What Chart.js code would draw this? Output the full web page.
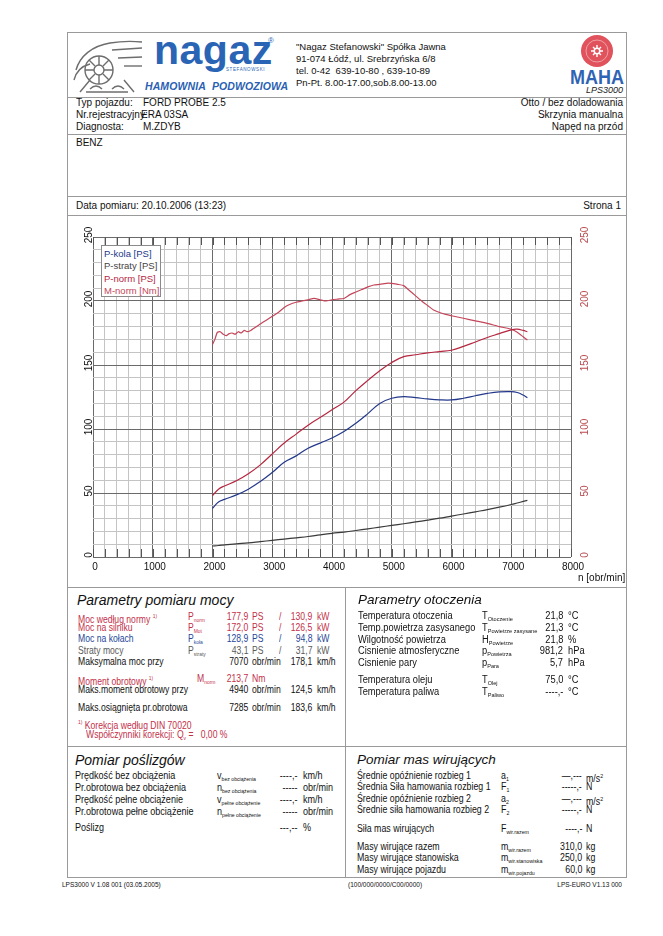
<!DOCTYPE html>
<html>
<head>
<meta charset="utf-8">
<script src="https://cdn.jsdelivr.net/npm/chart.js@4.4.1/dist/chart.umd.min.js"></script>
<style>
  body { margin: 0; background: #fff; width: 663px; height: 936px; position: relative; overflow: hidden;
         font-family: "Liberation Sans", Arial, sans-serif; color: #111; }
  .t { position: absolute; white-space: nowrap; font-size: 10px; line-height: 12px; }
  .n { font-size: 10.5px; }
  .w { font-size: 10px; }
  .ln { position: absolute; background: #9a9a9a; }
  .red { color: #c3304a; }
  .blue { color: #27479a; }
  .gray { color: #5a5a5a; }
  .h { font-style: italic; font-size: 14px; line-height: 16px; color: #111; }
  sub { font-size: 6px; vertical-align: -2px; line-height: 0; }
  #legend { position: absolute; left: 101px; top: 245px; width: 60px; height: 52px; background: #fff; white-space: nowrap;
            border: 1px solid #8a8a8a; font-size: 9.5px; line-height: 12.4px; padding: 2px 0 0 2px; box-sizing: border-box; }
  #chartBox { position: absolute; left: 67px; top: 216px; }
</style>
</head>
<body>

<!-- frame lines -->
<div class="ln" style="left:67px;top:32px;width:560px;height:1px"></div>
<div class="ln" style="left:67px;top:97px;width:560px;height:1px"></div>
<div class="ln" style="left:67px;top:134px;width:560px;height:1px"></div>
<div class="ln" style="left:67px;top:196px;width:560px;height:1px"></div>
<div class="ln" style="left:67px;top:215px;width:560px;height:1px"></div>
<div class="ln" style="left:67px;top:587px;width:560px;height:1px"></div>
<div class="ln" style="left:67px;top:746px;width:560px;height:1px"></div>
<div class="ln" style="left:67px;top:877px;width:560px;height:1px"></div>
<div class="ln" style="left:67px;top:32px;width:1px;height:845px"></div>
<div class="ln" style="left:626px;top:32px;width:1px;height:845px"></div>
<div class="ln" style="left:345px;top:587px;width:1px;height:290px"></div>

<!-- header logo left -->
<svg style="position:absolute;left:72px;top:36px" width="72" height="60" viewBox="0 0 72 60">
  <g fill="none" stroke="#6d6d6d" stroke-width="1.4">
    <path d="M4 34 C8 20 20 10 38 7 C50 5 60 5 70 6"/>
    <path d="M2 44 C4 36 10 30 18 28"/>
    <path d="M40 14 L70 12"/>
    <path d="M46 22 L70 21"/>
    <path d="M52 30 L70 30"/>
    <circle cx="27" cy="34" r="14"/>
    <circle cx="27" cy="34" r="5"/>
    <path d="M27 20 L27 29 M27 39 L27 48 M13 34 L22 34 M32 34 L41 34 M17 24 L23 30 M31 38 L37 44 M37 24 L31 30 M23 38 L17 44"/>
    <path d="M8 56 L18 44 M62 56 L52 44 M14 56 L56 56"/>
    <path d="M18 53 C22 49 26 49 30 53 M40 53 C44 49 48 49 52 53"/>
  </g>
</svg>
<div class="t" style="left:154px;top:28px;font-size:41px;line-height:44px;font-weight:bold;color:#2a64b4;letter-spacing:0.5px">nagaz</div>
<div class="t" style="left:268px;top:35px;font-size:8px;color:#2a64b4">®</div>
<div class="t" style="left:226px;top:67px;font-size:4.5px;line-height:6px;color:#2a64b4;letter-spacing:0.6px">STEFANOWSKI</div>
<div class="t" style="left:145px;top:80px;font-size:10.5px;font-weight:bold;font-style:italic;color:#2a5fb3;letter-spacing:0.1px">HAMOWNIA&nbsp; PODWOZIOWA</div>

<div class="t" style="left:296px;top:41px;font-size:9.5px">"Nagaz Stefanowski" Spółka Jawna</div>
<div class="t" style="left:296px;top:53px;font-size:9.5px">91-074 Łódź, ul. Srebrzyńska 6/8</div>
<div class="t" style="left:296px;top:65px;font-size:9.5px">tel. 0-42&nbsp; 639-10-80 , 639-10-89</div>
<div class="t" style="left:296px;top:77px;font-size:9.5px">Pn-Pt. 8.00-17.00,sob.8.00-13.00</div>

<!-- MAHA logo -->
<svg style="position:absolute;left:568px;top:34px" width="58" height="62" viewBox="0 0 58 62">
  <circle cx="29" cy="17" r="16" fill="#e0525c"/>
  <circle cx="29" cy="17" r="11" fill="none" stroke="#f3b4b8" stroke-width="0.8"/>
  <circle cx="29" cy="17" r="3.5" fill="#fff"/>
  <path d="M29 11 L29 23 M23 17 L35 17 M25 13 L33 21 M33 13 L25 21" stroke="#fff" stroke-width="1.4"/>
  <circle cx="29" cy="17" r="2" fill="#e0525c"/>
  <text x="29" y="50" font-family="Liberation Sans" font-weight="bold" font-size="21" text-anchor="middle"
        textLength="54" lengthAdjust="spacingAndGlyphs" fill="#2f63b5">MAHA</text>
  <text x="55" y="59" font-family="Liberation Sans" font-style="italic" font-size="9" text-anchor="end" fill="#222">LPS3000</text>
</svg>

<!-- vehicle data -->
<div class="t" style="left:76px;top:97px">Typ pojazdu:</div>
<div class="t" style="left:143px;top:97px">FORD PROBE 2.5</div>
<div class="t" style="left:76px;top:109px">Nr.rejestracyjny:</div>
<div class="t" style="left:141px;top:109px">ERA 03SA</div>
<div class="t" style="left:76px;top:121px">Diagnosta:</div>
<div class="t" style="left:143px;top:121px">M.ZDYB</div>
<div class="t" style="right:40px;top:97px;text-align:right">Otto / bez doladowania</div>
<div class="t" style="right:40px;top:109px;text-align:right">Skrzynia manualna</div>
<div class="t" style="right:40px;top:121px;text-align:right">Napęd na przód</div>
<div class="t" style="left:76px;top:137px">BENZ</div>
<div class="t" style="left:76px;top:200px">Data pomiaru: 20.10.2006 (13:23)</div>
<div class="t" style="right:42px;top:200px;text-align:right">Strona 1</div>

<!-- chart -->
<div id="chartBox"><canvas id="c" width="561" height="370"></canvas></div>
<div id="legend">
  <div style="color:#23388a">P-kola [PS]</div>
  <div style="color:#444">P-straty [PS]</div>
  <div style="color:#b5263f">P-norm [PS]</div>
  <div style="color:#c4465a">M-norm [Nm]</div>
</div>
<div class="t" style="left:578px;top:572px">n [obr/min]</div>

<!-- Parametry pomiaru mocy -->
<div class="t h" style="left:77px;top:592px">Parametry pomiaru mocy</div>
<div id="moc"></div>

<!-- Parametry otoczenia -->
<div class="t h" style="left:358px;top:592px;font-size:13.5px">Parametry otoczenia</div>
<div id="oto"></div>

<!-- Pomiar poslizgow -->
<div class="t h" style="left:75px;top:752px">Pomiar poślizgów</div>
<div id="pos"></div>

<!-- Pomiar mas -->
<div class="t h" style="left:357px;top:752px;font-size:13.5px">Pomiar mas wirujących</div>
<div id="mas"></div>

<div class="t" style="left:62px;top:880px;font-size:6.5px;line-height:10px">LPS3000 V 1.08 001 (03.05.2005)</div>
<div class="t" style="left:348px;top:880px;font-size:6.5px;line-height:10px">(100/000/0000/C00/0000)</div>
<div class="t" style="right:41px;top:880px;font-size:6.5px;line-height:10px;text-align:right">LPS-EURO V1.13 000</div>

<script>
// power curves, rpm vs PS
const rpmPower = [2000, 2100, 2200, 2400, 2600, 2800, 3000, 3200, 3400, 3600, 3800, 4000, 4200, 4400, 4600,
                  4800, 5000, 5200, 5400, 5600, 5800, 6000, 6200, 6400, 6600, 6800, 7000, 7100, 7200, 7270];
const pKola = [38, 43, 45, 48.5, 53, 59, 66, 74, 79, 85, 89, 93, 98, 104.5, 112,
               120, 124, 125.3, 124.5, 123.5, 122.8, 122.7, 124, 126, 127.8, 129, 129.2, 128.5, 126.5, 124.5];
const pStraty = [8.6, 9, 9.5, 10.3, 11, 12, 13, 14, 15, 16, 17.3, 18.5, 19.5, 20.7, 22,
                 23.3, 24.7, 26, 27.4, 28.8, 30.3, 32, 33.6, 35.3, 37, 38.9, 41, 42.2, 43.4, 44.2];
const pNorm = [48, 53, 55.5, 59.5, 65, 72, 80.5, 89, 96, 103, 109, 115, 121, 130, 138,
               145.5, 152, 156.5, 158, 159.5, 160.5, 161.5, 164.5, 168, 171.5, 174.5, 177.5, 178, 177, 176];

// torque, rpm vs Nm
const rpmTorque = [2000, 2040, 2080, 2130, 2180, 2230, 2280, 2330, 2380, 2430, 2480, 2530, 2580, 2640, 2700,
                   2800, 2900, 3000, 3100, 3200, 3300, 3400, 3500, 3600, 3700, 3800, 3900, 4000, 4100, 4200,
                   4300, 4400, 4500, 4600, 4700, 4800, 4940, 5000, 5100, 5200, 5300, 5400, 5500, 5600, 5700,
                   5800, 5900, 6000, 6200, 6400, 6600, 6800, 7000, 7100, 7200, 7270];
const mNorm = [166, 170, 175.5, 176, 174, 173, 174.5, 175, 174, 176, 175, 177, 176, 177, 179,
               182, 185, 188, 191, 195, 197.5, 199, 200, 201, 202, 201, 200, 201, 201.5, 202,
               205, 207, 209, 211, 212.5, 213, 214, 213.7, 213, 212, 208, 204, 200, 196.5, 193,
               191, 189.5, 188.5, 186.5, 184.5, 182.5, 180, 178, 175.5, 172, 169.5];

const xLabels = [0, 1000, 2000, 3000, 4000, 5000, 6000, 7000, 8000];
const yLabels = [0, 50, 100, 150, 200, 250];

const pts = (xs, ys) => xs.map((x, i) => ({ x: x, y: ys[i] }));

const axisText = {
  id: 'axisText',
  afterDraw(chart) {
    const { ctx, chartArea: a, scales } = chart;
    const x = scales.x, y = scales.y, y2 = scales.y2;
    ctx.save();
    // short dark ticks at top and bottom edge
    ctx.strokeStyle = '#555';
    ctx.lineWidth = 1;
    x.ticks.forEach(t => {
      const px = Math.round(x.getPixelForValue(t.value)) + 0.5;
      ctx.beginPath();
      ctx.moveTo(px, a.top); ctx.lineTo(px, a.top + 8);
      ctx.moveTo(px, a.bottom - 8); ctx.lineTo(px, a.bottom);
      ctx.stroke();
    });
    ctx.font = '10px "Liberation Sans", Arial';
    ctx.fillStyle = '#111';
    ctx.textAlign = 'center';
    ctx.textBaseline = 'middle';
    xLabels.forEach(v => ctx.fillText(String(v), x.getPixelForValue(v) + 2, a.bottom + 10));
    ctx.textBaseline = 'alphabetic';
    yLabels.forEach(v => {
      ctx.save();
      ctx.translate(a.left - 1, y.getPixelForValue(v) - 2);
      ctx.rotate(-Math.PI / 2);
      ctx.fillStyle = '#111';
      ctx.fillText(String(v), 0, 0);
      ctx.restore();
      ctx.save();
      ctx.translate(a.right + 17, y2.getPixelForValue(v) - 2);
      ctx.rotate(-Math.PI / 2);
      ctx.fillStyle = '#b84a50';
      ctx.fillText(String(v), 0, 0);
      ctx.restore();
    });
    ctx.restore();
  }
};

const gridX = c => (c.tick && c.tick.value % 1000 === 0) ? '#6a6a6a' : '#c4c4c4';
const gridY = c => (c.tick && c.tick.value % 50 === 0) ? '#6a6a6a' : '#c4c4c4';

new Chart(document.getElementById('c'), {
  type: 'line',
  data: {
    datasets: [
      { label: 'P-straty [PS]', data: pts(rpmPower, pStraty), borderColor: '#3a3a3a', yAxisID: 'y' },
      { label: 'P-kola [PS]', data: pts(rpmPower, pKola), borderColor: '#23388a', yAxisID: 'y' },
      { label: 'P-norm [PS]', data: pts(rpmPower, pNorm), borderColor: '#b5263f', yAxisID: 'y' },
      { label: 'M-norm [Nm]', data: pts(rpmTorque, mNorm), borderColor: '#c4465a', yAxisID: 'y2', tension: 0.2 }
    ]
  },
  options: {
    responsive: false,
    animation: false,
    devicePixelRatio: 1,
    layout: { padding: { left: 26, right: 57, top: 21, bottom: 29 } },
    elements: {
      point: { radius: 0 },
      line: { borderWidth: 1.2, tension: 0.4, fill: false }
    },
    plugins: { legend: { display: false }, tooltip: { enabled: false } },
    scales: {
      x: {
        type: 'linear', min: 0, max: 8000,
        ticks: { display: false, stepSize: 200 },
        grid: { color: gridX, lineWidth: 1, drawTicks: false },
        border: { display: false }
      },
      y: {
        min: 0, max: 250,
        ticks: { display: false, stepSize: 10 },
        grid: { color: gridY, lineWidth: 1, drawTicks: false },
        border: { display: false }
      },
      y2: { display: false, min: 0, max: 250 }
    }
  },
  plugins: [axisText]
});

// text tables; sx squeezes the text horizontally like the printed narrow font
function put(parent, x, y, html, cls, right, sx) {
  const d = document.createElement('div');
  d.className = 't ' + (cls || '');
  d.innerHTML = html;
  d.style.top = (y - 6) + 'px';
  if (right) { d.style.right = (663 - x) + 'px'; d.style.textAlign = 'right'; }
  else d.style.left = x + 'px';
  if (sx) {
    d.style.transform = 'scaleX(' + sx + ')';
    d.style.transformOrigin = right ? 'right center' : 'left center';
  }
  document.getElementById(parent).appendChild(d);
}

const mocRows = [
  ['Moc według normy <sup style="font-size:6px">1)</sup>', 'P<sub>norm</sub>', '177,9', 'PS', '/', '130,9', 'kW', 'red', 616],
  ['Moc na silniku', 'P<sub>Mot</sub>', '172,0', 'PS', '/', '126,5', 'kW', 'red', 627],
  ['Moc na kołach', 'P<sub>koła</sub>', '128,9', 'PS', '/', '94,8', 'kW', 'blue', 638],
  ['Straty mocy', 'P<sub>straty</sub>', '43,1', 'PS', '/', '31,7', 'kW', 'gray', 650],
  ['Maksymalna moc przy', '', '7070', 'obr/min', '', '178,1', 'km/h', '', 661],
  ['Moment obrotowy <sup style="font-size:6px">1)</sup>', 'M<sub>norm</sub>', '213,7', 'Nm', '', '', '', 'red', 678],
  ['Maks.moment obrotowy przy', '', '4940', 'obr/min', '', '124,5', 'km/h', '', 689],
  ['Maks.osiągnięta pr.obrotowa', '', '7285', 'obr/min', '', '183,6', 'km/h', '', 707]
];
const K = 0.82;
mocRows.forEach(r => {
  const c = 'n ' + r[7], y = r[8];
  put('moc', 78, y, r[0], c, false, K);
  if (r[1]) put('moc', r[1][0] === 'M' ? 197 : 188, y, r[1], c, false, K);
  put('moc', 248, y, r[2], c, true, K);
  put('moc', 252, y, r[3], c, false, K);
  if (r[4]) put('moc', 279, y, r[4], c, false, K);
  if (r[5]) put('moc', 312, y, r[5], c, true, K);
  if (r[6]) put('moc', 317, y, r[6], c, false, K);
});
put('moc', 78, 722, '<sup style="font-size:6px">1)</sup> Korekcja według DIN 70020', 'n red', false, K);
put('moc', 86, 734, 'Współczynniki korekcji: Q<sub>v</sub> = &nbsp; 0,00 %', 'n red', false, K);

const otoRows = [
  ['Temperatura otoczenia', 'T<sub>Otoczenie</sub>', '21,8', '°C', 616],
  ['Temp.powietrza zasysanego', 'T<sub>Powietrze zasysane</sub>', '21,3', '°C', 628],
  ['Wilgotność powietrza', 'H<sub>Powietrze</sub>', '21,8', '%', 640],
  ['Cisnienie atmosferyczne', 'p<sub>Powietrza</sub>', '981,2', 'hPa', 651],
  ['Cisnienie pary', 'p<sub>Para</sub>', '5,7', 'hPa', 663],
  ['Temperatura oleju', 'T<sub>Olej</sub>', '75,0', '°C', 680],
  ['Temperatura paliwa', 'T<sub>Paliwo</sub>', '----,-', '°C', 692]
];
const W = 0.93;
otoRows.forEach(r => {
  put('oto', 358, r[4], r[0], 'w', false, W);
  put('oto', 482, r[4], r[1], 'w', false, W);
  put('oto', 563, r[4], r[2], 'w', true, W);
  put('oto', 568, r[4], r[3], 'w', false, W);
});

const posRows = [
  ['Prędkość bez obciążenia', 'v<sub>bez obciążenia</sub>', '----,-', 'km/h', 775],
  ['Pr.obrotowa bez obciążenia', 'n<sub>bez obciążenia</sub>', '-----', 'obr/min', 787],
  ['Prędkość pełne obciążenie', 'v<sub>pełne obciążenie</sub>', '----,-', 'km/h', 799],
  ['Pr.obrotowa pełne obciążenie', 'n<sub>pełne obciążenie</sub>', '-----', 'obr/min', 811],
  ['Poślizg', '', '---,--', '%', 827]
];
posRows.forEach(r => {
  put('pos', 75, r[4], r[0], 'n', false, 0.86);
  if (r[1]) put('pos', 217, r[4], r[1], 'n', false, 0.86);
  put('pos', 297, r[4], r[2], 'n', true, 0.86);
  put('pos', 303, r[4], r[3], 'n', false, 0.86);
});

const masRows = [
  ['Średnie opóźnienie rozbieg 1', 'a<sub>1</sub>', '—,---', 'm/s<sup style="font-size:6px">2</sup>', 776],
  ['Średnia Siła hamowania rozbieg 1', 'F<sub>1</sub>', '-----,-', 'N', 787],
  ['Średnie opóźnienie rozbieg 2', 'a<sub>2</sub>', '—,---', 'm/s<sup style="font-size:6px">2</sup>', 799],
  ['Średnie siła hamowania rozbieg 2', 'F<sub>2</sub>', '-----,-', 'N', 810],
  ['Siła mas wirujących', 'F<sub>wir.razem</sub>', '----,-', 'N', 829],
  ['Masy wirujące razem', 'm<sub>wir.razem</sub>', '310,0', 'kg', 847],
  ['Masy wirujące stanowiska', 'm<sub>wir.stanowiska</sub>', '250,0', 'kg', 858],
  ['Masy wirujące pojazdu', 'm<sub>wir.pojazdu</sub>', '60,0', 'kg', 870]
];
masRows.forEach(r => {
  put('mas', 357, r[4], r[0], 'w', false, 0.88);
  put('mas', 501, r[4], r[1], 'w', false, 0.88);
  put('mas', 582, r[4], r[2], 'w', true, 0.88);
  put('mas', 586, r[4], r[3], 'w', false, 0.88);
});
</script>
</body>
</html>
